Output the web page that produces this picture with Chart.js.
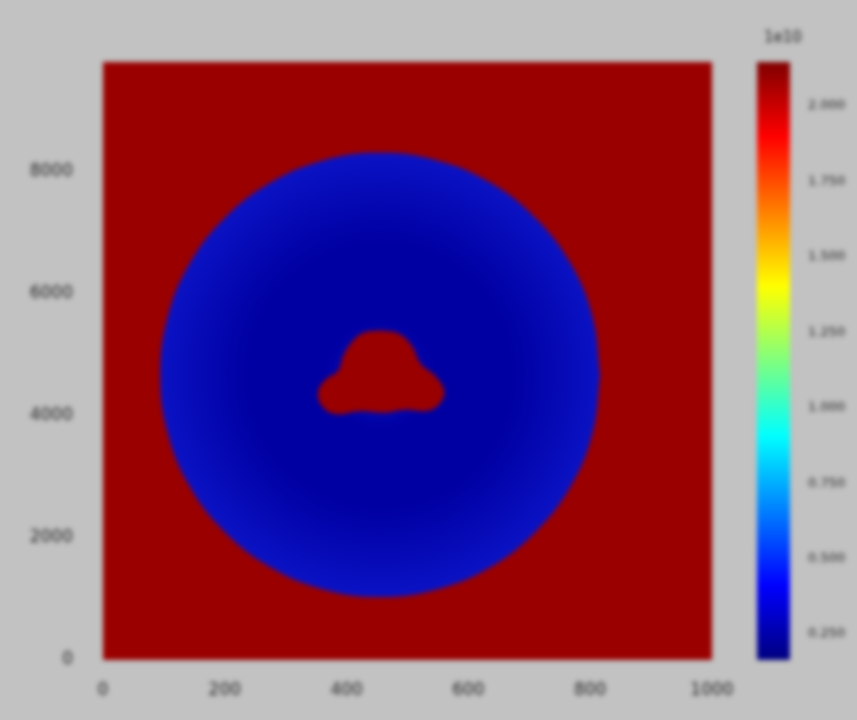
<!DOCTYPE html>
<html>
<head>
<meta charset="utf-8">
<script src="https://cdn.jsdelivr.net/npm/chart.js@4"></script>
<style>
  html, body { margin: 0; padding: 0; background: #c2c2c2; }
  #wrap { position: relative; width: 857px; height: 720px; overflow: hidden; }
  canvas { position: absolute; top: 0; filter: blur(2.5px); }
  #mapChart { left: 0; }
  #barChart { left: 740px; }
</style>
</head>
<body>
<div id="wrap">
  <canvas id="mapChart" width="857" height="720"></canvas>
  <canvas id="barChart" width="117" height="720"></canvas>
</div>
<script>
// axis ranges and tick labels
const xRange = [0, 1000];
const yRange = [0, 9800];
const xTicks = [0, 200, 400, 600, 800, 1000];
const yTicks = [0, 2000, 4000, 6000, 8000];

// outer region (high value, dark red)
const boxX = [0, 1000, 1000, 0, 0];
const boxY = [0, 0, 9800, 9800, 0];

// blue disk outline
const diskX = [816, 804, 768, 710, 636, 548, 455, 362, 275, 200, 142, 106, 94, 106, 142, 200, 275, 362, 455, 548, 636, 710, 768, 804, 816];
const diskY = [4672, 5614, 6492, 7245, 7823, 8187, 8311, 8187, 7823, 7245, 6492, 5614, 4672, 3730, 2852, 2099, 1521, 1157, 1033, 1157, 1521, 2099, 2852, 3730, 4672];

// red blob in the middle of the disk
const blobX = [455, 485, 507, 522, 545, 560, 555, 534, 496, 463, 422, 381, 359, 353, 366, 386, 395, 412, 430, 455];
const blobY = [5400, 5350, 5150, 4850, 4660, 4426, 4230, 4085, 4100, 4050, 4075, 4030, 4170, 4393, 4600, 4740, 5000, 5250, 5370, 5400];

// colorbar
const cbMin = 0.164;
const cbMax = 2.146;
const cbTicks = [0.25, 0.5, 0.75, 1.0, 1.25, 1.5, 1.75, 2.0];
const cbLabel = "1e10";
const jetStops = ["#00007f", "#0000ff", "#007fff", "#00ffff", "#7fff7f", "#ffff00", "#ff7f00", "#ff0000", "#7f0000"];

const hiColor = "#9a0000";
const loInner = "#0000a2";
const loOuter = "#0a12c4";

function toPoints(xs, ys) {
    return xs.map((x, i) => ({ x: x, y: ys[i] }));
}

// disk shading: darker towards the middle
function diskFill(ctx) {
    const chart = ctx.chart;
    const sx = chart.scales.x, sy = chart.scales.y;
    if (!sx || !chart.chartArea) return loOuter;
    const cx = sx.getPixelForValue(455), cy = sy.getPixelForValue(4672);
    const r = sx.getPixelForValue(816) - cx;
    const g = chart.ctx.createRadialGradient(cx, cy, 0, cx, cy, r);
    g.addColorStop(0, loOuter);
    g.addColorStop(0.25, loInner);
    g.addColorStop(0.6, loInner);
    g.addColorStop(1, loOuter);
    return g;
}

// higher order is drawn first (underneath)
function shape(xs, ys, color, tension, order) {
    return {
        type: "line",
        data: toPoints(xs, ys),
        borderColor: color,
        borderWidth: 0,
        backgroundColor: color,
        fill: "shape",
        pointRadius: 0,
        tension: tension,
        order: order
    };
}

const tickFont = { family: "DejaVu Sans", size: 17 };

new Chart(document.getElementById("mapChart"), {
    type: "scatter",
    data: {
        datasets: [
            shape(boxX, boxY, hiColor, 0, 3),
            shape(diskX, diskY, diskFill, 0.4, 2),
            shape(blobX, blobY, hiColor, 0.4, 1)
        ]
    },
    options: {
        responsive: false,
        animation: false,
        layout: { padding: { left: 8, top: 62, right: 145, bottom: 10 } },
        plugins: { legend: { display: false }, tooltip: { enabled: false } },
        scales: {
            x: {
                type: "linear",
                min: xRange[0],
                max: xRange[1],
                grid: { display: false },
                border: { display: false },
                afterBuildTicks: s => { s.ticks = xTicks.map(v => ({ value: v })); },
                afterFit: s => { s.height = 50; },
                ticks: { color: "#222", font: tickFont, padding: 12, callback: v => String(v) }
            },
            y: {
                type: "linear",
                min: yRange[0],
                max: yRange[1],
                grid: { display: false },
                border: { display: false },
                afterBuildTicks: s => { s.ticks = yTicks.map(v => ({ value: v })); },
                afterFit: s => { s.width = 95; },
                ticks: { color: "#222", font: tickFont, padding: 22, callback: v => String(v) }
            }
        }
    }
});

// colorbar label on top
const cbTitle = {
    id: "cbTitle",
    afterDraw(chart) {
        const ctx = chart.ctx;
        ctx.save();
        ctx.fillStyle = "#222";
        ctx.font = "15px 'DejaVu Sans'";
        ctx.textAlign = "left";
        ctx.fillText(cbLabel, 24, 42);
        ctx.restore();
    }
};

new Chart(document.getElementById("barChart"), {
    type: "bar",
    data: {
        labels: ["c"],
        datasets: [{
            data: [[cbMin, cbMax]],
            borderWidth: 0,
            borderSkipped: false,
            barPercentage: 1,
            categoryPercentage: 1,
            backgroundColor: ctx => {
                const area = ctx.chart.chartArea;
                if (!area) return jetStops[0];
                const g = ctx.chart.ctx.createLinearGradient(0, area.bottom, 0, area.top);
                jetStops.forEach((c, i) => g.addColorStop(i / (jetStops.length - 1), c));
                return g;
            }
        }]
    },
    options: {
        responsive: false,
        animation: false,
        layout: { padding: { left: 17, top: 62, right: 0, bottom: 60 } },
        plugins: { legend: { display: false }, tooltip: { enabled: false } },
        scales: {
            x: { display: false },
            y: {
                position: "right",
                min: cbMin,
                max: cbMax,
                grid: { display: false },
                border: { display: false },
                afterBuildTicks: s => { s.ticks = cbTicks.map(v => ({ value: v })); },
                afterFit: s => { s.width = 67; },
                ticks: {
                    color: "#222",
                    font: { family: "DejaVu Sans", size: 13 },
                    padding: 10,
                    callback: v => Number(v).toFixed(3)
                }
            }
        }
    },
    plugins: [cbTitle]
});
</script>
</body>
</html>
